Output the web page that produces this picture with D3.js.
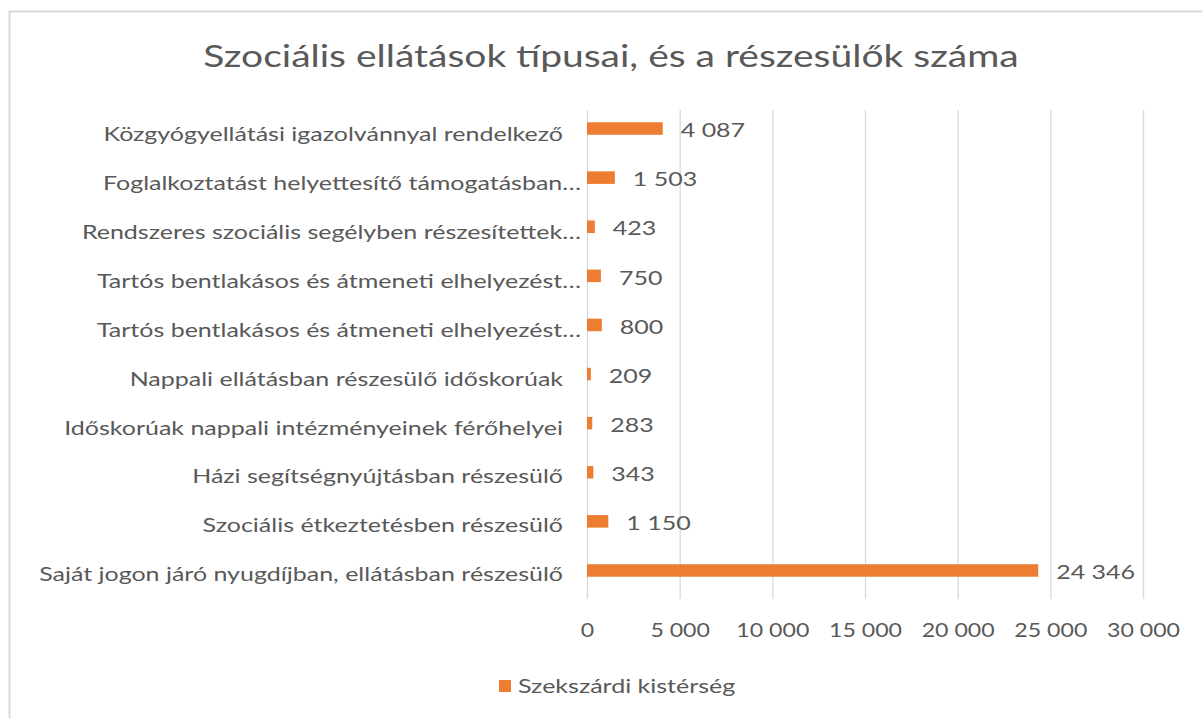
<!DOCTYPE html>
<html>
<head>
<meta charset="utf-8">
<script src="https://cdn.jsdelivr.net/npm/d3@7"></script>
<style>
  html, body { margin: 0; padding: 0; background: #fff; }
  svg { display: block; }
  text { font-family: Lato, "Open Sans", sans-serif; fill: #595959; }
</style>
</head>
<body>
<svg id="chart" width="1202" height="718"></svg>
<script>
// Ellátási kategóriák (felülről lefelé) és a részesülők száma
const categories = [
  "Közgyógyellátási igazolvánnyal rendelkező",
  "Foglalkoztatást helyettesítő támogatásban…",
  "Rendszeres szociális segélyben részesítettek…",
  "Tartós bentlakásos és átmeneti elhelyezést…",
  "Tartós bentlakásos és átmeneti elhelyezést…",
  "Nappali ellátásban részesülő időskorúak",
  "Időskorúak nappali intézményeinek férőhelyei",
  "Házi segítségnyújtásban részesülő",
  "Szociális étkeztetésben részesülő",
  "Saját jogon járó nyugdíjban, ellátásban részesülő"
];
const values = [4087, 1503, 423, 750, 800, 209, 283, 343, 1150, 24346];
const seriesName = "Szekszárdi kistérség";
const xTicks = [0, 5000, 10000, 15000, 20000, 25000, 30000];
const title = "Szociális ellátások típusai, és a részesülők száma";

const svg = d3.select("#chart");
const color = "#ED7D31";
const gridColor = "#D9D9D9";
const stretch = 1.25; // széles betűkép: vízszintes nyújtás

// Magyar számformátum: szóköz ezres elválasztó
const hu = d3.formatLocale({ decimal: ",", thousands: "\u00a0", grouping: [3], currency: ["", " Ft"] });
const fmt = hu.format(",d");

// Szöveg vízszintes nyújtása a horgonypont körül
function widen(sel) {
  sel.each(function () {
    const t = d3.select(this);
    const px = +t.attr("x") || 0, py = +t.attr("y") || 0;
    t.attr("transform", `translate(${px},${py}) scale(${stretch},1) translate(${-px},${-py})`);
  });
}

// Diagram kerete
svg.append("rect")
  .attr("x", 9.5).attr("y", 11.5)
  .attr("width", 1210).attr("height", 720)
  .attr("fill", "#fff")
  .attr("stroke", gridColor).attr("stroke-width", 2);

// Cím
svg.append("text")
  .attr("x", 611).attr("y", 67)
  .attr("text-anchor", "middle")
  .style("font-size", "31.2px")
  .text(title)
  .call(widen);

const x = d3.scaleLinear().domain([0, 30000]).range([587, 1143]);
const gridTop = 110, gridBottom = 599;
// oszlopsávok (kissé a kategóriasávok fölött)
const y = d3.scaleBand().domain(d3.range(categories.length)).range([104, 595]).paddingInner(0.745).paddingOuter(0.372);
// kategóriasávok a teljes rajzterületen
const yCat = d3.scaleBand().domain(d3.range(categories.length)).range([gridTop, gridBottom]);

// Függőleges rácsvonalak
svg.append("g")
  .selectAll("line")
  .data(xTicks)
  .join("line")
  .attr("x1", d => x(d) + 0.5).attr("x2", d => x(d) + 0.5)
  .attr("y1", gridTop).attr("y2", gridBottom)
  .attr("stroke", gridColor).attr("stroke-width", 1.3);

// X tengely feliratai
const xAxis = d3.axisBottom(x).tickValues(xTicks).tickFormat(fmt).tickSize(0).tickPadding(0);
const gx = svg.append("g").attr("transform", `translate(0, ${gridBottom + 25})`).call(xAxis);
gx.select(".domain").remove();
gx.selectAll("text")
  .attr("dy", "0.72em")
  .style("font-size", "18.5px")
  .style("fill", "#595959")
  .style("font-family", "Lato, sans-serif")
  .attr("transform", `scale(${stretch},1)`);

// Oszlopok
svg.append("g")
  .selectAll("rect")
  .data(values)
  .join("rect")
  .attr("x", x(0))
  .attr("y", (d, i) => y(i))
  .attr("width", d => x(d) - x(0))
  .attr("height", y.bandwidth())
  .attr("fill", color);

// Értékcímkék
svg.append("g")
  .selectAll("text")
  .data(values)
  .join("text")
  .attr("x", d => x(d) + 18)
  .attr("y", (d, i) => y(i) + y.bandwidth() / 2 + 1.5)
  .attr("dy", "0.36em")
  .style("font-size", "20px")
  .text(d => fmt(d))
  .call(widen);

// Kategóriafeliratok
svg.append("g")
  .selectAll("text")
  .data(categories)
  .join("text")
  .attr("x", d => d.endsWith("…") ? 581 : 563)
  .attr("y", (d, i) => yCat(i) + yCat.bandwidth() / 2 - 0.5)
  .attr("dy", "0.36em")
  .attr("text-anchor", "end")
  .style("font-size", "20px")
  .text(d => d)
  .call(widen);

// Jelmagyarázat
const legend = svg.append("g").attr("transform", "translate(499, 686)");
legend.append("rect").attr("x", 0).attr("y", -6).attr("width", 12).attr("height", 12).attr("fill", color);
legend.append("text").attr("x", 19).attr("y", 0).attr("dy", "0.36em")
  .style("font-size", "20px").text(seriesName)
  .call(widen);
</script>
</body>
</html>
